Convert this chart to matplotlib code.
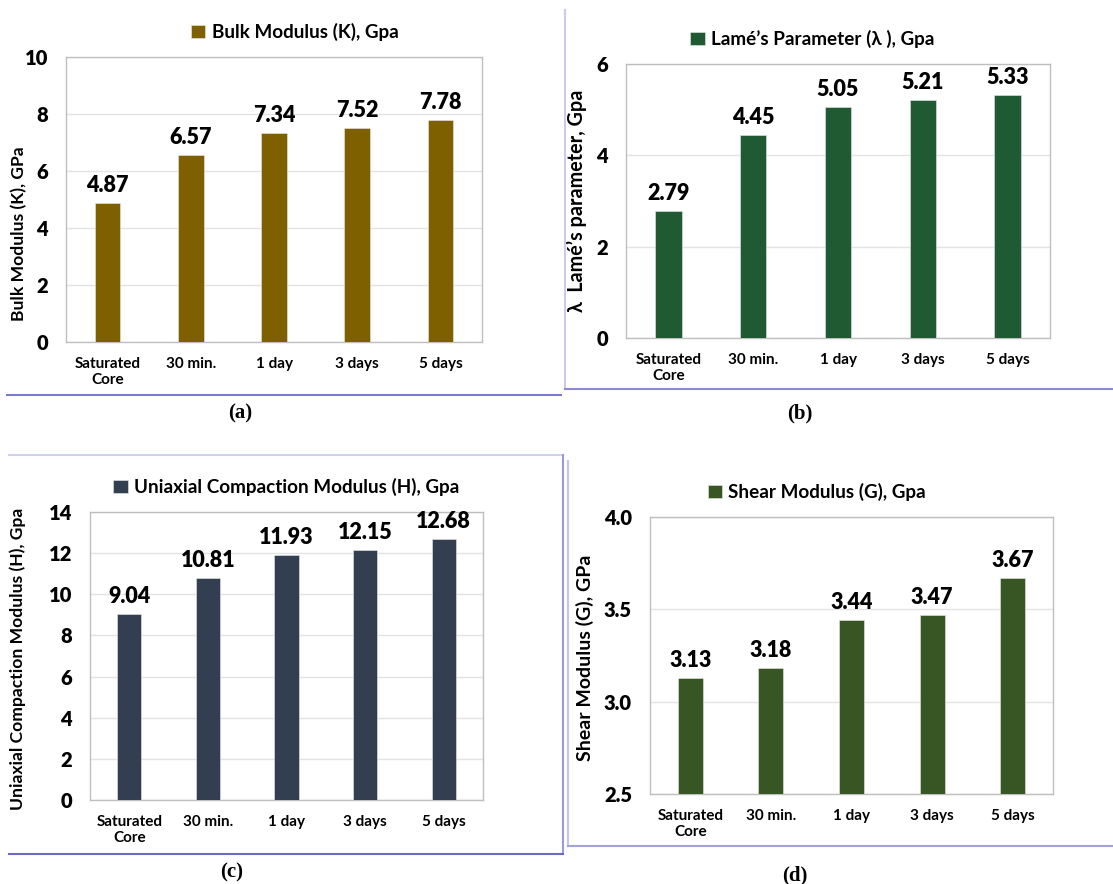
import numpy as np
import matplotlib
matplotlib.use("Agg")
import matplotlib.pyplot as plt
from matplotlib.lines import Line2D

plt.rcParams['font.family'] = ['Lato', 'DejaVu Sans']
plt.rcParams['font.weight'] = 'bold'

cats = ['Saturated\nCore', '30 min.', '1 day', '3 days', '5 days']
bulk = [4.87, 6.57, 7.34, 7.52, 7.78]
lame = [2.79, 4.45, 5.05, 5.21, 5.33]
uniax = [9.04, 10.81, 11.93, 12.15, 12.68]
shear = [3.13, 3.18, 3.44, 3.47, 3.67]

W, H = 1113, 884
fig = plt.figure(figsize=(W / 100, H / 100), dpi=100)


def px_axes(l, t, r, b):
    return fig.add_axes([l / W, 1 - b / H, (r - l) / W, (b - t) / H])


panels = [
    # data, color, legend, ylabel, box(l,t,r,b), yticks, ylim, legend x, ylabel x, ylabel y, fmt, ylabel size
    (bulk, '#7f6000', 'Bulk Modulus (K), Gpa', 'Bulk Modulus (K), GPa',
     (66, 57, 482, 342), np.arange(0, 11, 2), (0, 10), 0.55, -0.094, 0.38, '%d', 12.6),
    (lame, '#1f5a33', 'Lamé’s Parameter (λ ), Gpa', 'λ  Lamé’s parameter, Gpa',
     (626, 64, 1050, 338), np.arange(0, 7, 2), (0, 6), 0.44, -0.092, 0.5, '%d', 14.2),
    (uniax, '#333f50', 'Uniaxial Compaction Modulus (H), Gpa', 'Uniaxial Compaction Modulus (H), Gpa',
     (90, 512, 483, 800), np.arange(0, 15, 2), (0, 14), 0.5, -0.163, 0.49, '%d', 12.6),
    (shear, '#375623', 'Shear Modulus (G), Gpa', 'Shear Modulus (G), GPa',
     (650, 517, 1053, 794), np.arange(2.5, 4.01, 0.5), (2.5, 4.0), 0.414, -0.139, 0.49, '%.1f', 14),
]

x = np.arange(len(cats))
for vals, col, leg, ylab, box, yt, yl, lx, ylx, yly, fmt, yls in panels:
    ax = px_axes(*box)
    bars = ax.bar(x, vals, width=0.31, color=col, edgecolor='#e8e8e8', linewidth=0.4,
                  label=leg, zorder=3)
    ax.bar_label(bars, labels=['%.2f' % v for v in vals], padding=5,
                 fontsize=15.5, fontweight='heavy')
    ax.set_xlim(-0.5, len(cats) - 0.5)
    ax.set_ylim(*yl)
    ax.set_yticks(yt)
    ax.set_yticklabels([fmt % t for t in yt], fontsize=14.5, fontweight='heavy')
    ax.set_xticks(x)
    ax.set_xticklabels(cats, fontsize=11, fontweight='bold')
    ax.tick_params(length=0, pad=11)
    ax.tick_params(axis='y', pad=13)
    ax.grid(axis='y', color='#e3e3e3', lw=1, zorder=0)
    for s in ax.spines.values():
        s.set_color('#bfbfbf')
        s.set_linewidth(1)
    ax.set_ylabel(ylab, fontsize=yls, fontweight='bold')
    ax.yaxis.set_label_coords(ylx, yly)
    axh = box[3] - box[1]
    ax.legend(loc='center', bbox_to_anchor=(lx, 1 + 25 / axh), frameon=False,
              handlelength=0.75, handleheight=0.75, handletextpad=0.35,
              prop={'size': 13.6, 'weight': 'bold'})

# panel letters
for lab, (px, py) in zip(['(a)', '(b)', '(c)', '(d)'],
                         [(240, 413), (800, 413), (232, 872), (795, 875)]):
    fig.text(px / W, 1 - py / H, lab, ha='center', va='center', fontsize=15,
             fontweight='bold', family='Liberation Serif')

# frame lines around panels
frame = [
    ((7, 561), (395.5, 395.5), '#7b7bd0'),
    ((565, 565), (10, 389), '#cacaee'),
    ((565, 1113), (389, 389), '#8a8ad6'),
    ((9, 562), (454.6, 454.6), '#d2d2f0'),
    ((562.7, 562.7), (455, 854), '#9a9ad8'),
    ((9, 563), (853.7, 853.7), '#6a6acc'),
    ((568, 568), (461, 846), '#c4c4ec'),
    ((568, 1113), (846, 846), '#a2a2dc'),
]
for xs, ys, c in frame:
    fig.add_artist(Line2D([v / W for v in xs], [1 - v / H for v in ys],
                          color=c, lw=1.5, transform=fig.transFigure))

fig.savefig('out.png', dpi=100)
